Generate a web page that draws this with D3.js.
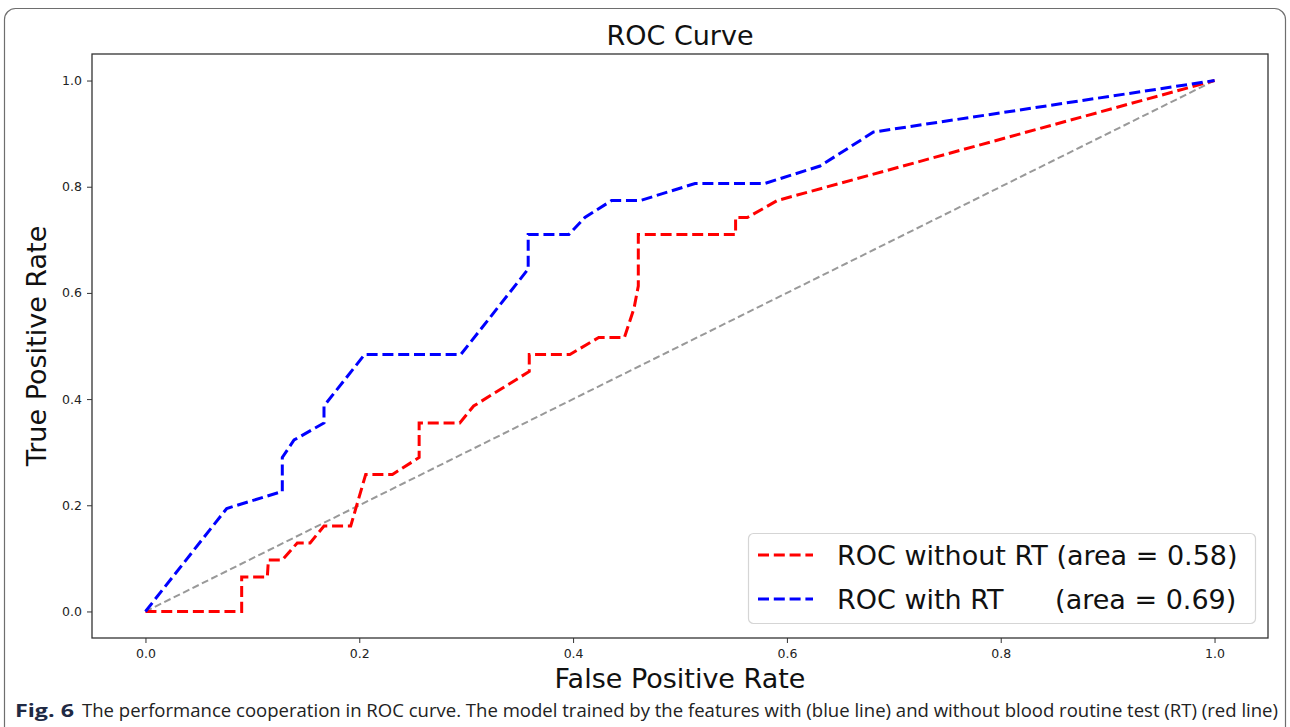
<!DOCTYPE html>
<html>
<head>
<meta charset="utf-8">
<script src="https://cdn.jsdelivr.net/npm/d3@7"></script>
<style>
  html, body { margin: 0; padding: 0; background: #fff; }
  svg { display: block; }
  text { font-family: "DejaVu Sans", sans-serif; }
</style>
</head>
<body>
<script>
// ---- Data ----
const fprWithout = [0, 0.090, 0.090, 0.114, 0.115, 0.128, 0.142, 0.154, 0.167, 0.192, 0.206, 0.231, 0.256, 0.256, 0.294, 0.307, 0.359, 0.359, 0.397, 0.424, 0.448, 0.457, 0.461, 0.461, 0.552, 0.552, 0.563, 0.591, 1.0];
const tprWithout = [0, 0.000, 0.065, 0.065, 0.097, 0.097, 0.129, 0.129, 0.161, 0.161, 0.258, 0.258, 0.290, 0.355, 0.355, 0.387, 0.452, 0.484, 0.484, 0.516, 0.516, 0.571, 0.613, 0.710, 0.710, 0.742, 0.742, 0.774, 1.0];
const fprWith = [0, 0.076, 0.128, 0.128, 0.139, 0.167, 0.167, 0.205, 0.295, 0.358, 0.358, 0.396, 0.411, 0.436, 0.463, 0.514, 0.579, 0.631, 0.681, 1.0];
const tprWith = [0, 0.194, 0.226, 0.290, 0.323, 0.355, 0.387, 0.484, 0.484, 0.645, 0.710, 0.710, 0.742, 0.774, 0.774, 0.806, 0.806, 0.839, 0.903, 1.0];
const chanceX = [0, 1];
const chanceY = [0, 1];
const xTicks = [0.0, 0.2, 0.4, 0.6, 0.8, 1.0];
const yTicks = [0.0, 0.2, 0.4, 0.6, 0.8, 1.0];
const seriesNames = ["ROC without RT (area = 0.58)", "ROC with RT      (area = 0.69)"];
const seriesColors = ["#ff0000", "#0000ff"];
const titleText = "ROC Curve";
const xLabel = "False Positive Rate";
const yLabel = "True Positive Rate";
const captionBold = "Fig. 6";
const captionText = "The performance cooperation in ROC curve. The model trained by the features with (blue line) and without blood routine test (RT) (red line)";

// ---- Layout ----
const W = 1290, H = 727;
const plot = { left: 92, right: 1268, top: 54, bottom: 638 };

const svg = d3.select("body").append("svg")
  .attr("width", W).attr("height", H)
  .attr("viewBox", `0 0 ${W} ${H}`);

svg.append("rect").attr("width", W).attr("height", H).attr("fill", "#fff");

// outer figure border (rounded)
svg.append("rect")
  .attr("x", 4.5).attr("y", 8.5)
  .attr("width", 1281).attr("height", 730)
  .attr("rx", 11).attr("ry", 11)
  .attr("fill", "none").attr("stroke", "#6e6e6e").attr("stroke-width", 1.2);

const x = d3.scaleLinear().domain([-0.05, 1.05]).range([plot.left, plot.right]);
const y = d3.scaleLinear().domain([-0.05, 1.05]).range([plot.bottom, plot.top]);

// axes
const xAxis = d3.axisBottom(x).tickValues(xTicks).tickFormat(d3.format(".1f")).tickSize(5).tickPadding(5);
const yAxis = d3.axisLeft(y).tickValues(yTicks).tickFormat(d3.format(".1f")).tickSize(5).tickPadding(5);

const gx = svg.append("g").attr("transform", `translate(0,${plot.bottom})`).call(xAxis);
const gy = svg.append("g").attr("transform", `translate(${plot.left},0)`).call(yAxis);
[gx, gy].forEach(g => {
  g.select(".domain").remove();
  g.selectAll(".tick line").attr("stroke", "#333").attr("stroke-width", 1);
  g.selectAll(".tick text").attr("fill", "#222").style("font-size", "12.5px").style("font-family", "DejaVu Sans, sans-serif");
});
gx.selectAll(".tick text").attr("dy", "0.8em");

// line generator
const line = d3.line().x(d => x(d[0])).y(d => y(d[1]));
svg.append("clipPath").attr("id", "plotclip").append("rect")
  .attr("x", plot.left).attr("y", plot.top).attr("width", plot.right - plot.left).attr("height", plot.bottom - plot.top);

const g = svg.append("g").attr("clip-path", "url(#plotclip)");

g.append("path")
  .datum(chanceX.map((v, i) => [v, chanceY[i]]))
  .attr("d", line).attr("fill", "none")
  .attr("stroke", "#999999").attr("stroke-width", 2)
  .attr("stroke-dasharray", "7,3.5");

const seriesData = [
  fprWithout.map((v, i) => [v, tprWithout[i]]),
  fprWith.map((v, i) => [v, tprWith[i]])
];
seriesData.forEach((d, i) => {
  g.append("path").datum(d).attr("d", line)
    .attr("fill", "none").attr("stroke", seriesColors[i])
    .attr("stroke-width", 3).attr("stroke-dasharray", "11,4.8")
    .attr("stroke-linejoin", "miter");
});

// spines
svg.append("rect")
  .attr("x", plot.left).attr("y", plot.top)
  .attr("width", plot.right - plot.left).attr("height", plot.bottom - plot.top)
  .attr("fill", "none").attr("stroke", "#333").attr("stroke-width", 1.3);

// title & labels
svg.append("text").attr("x", (plot.left + plot.right) / 2).attr("y", 45)
  .attr("text-anchor", "middle").style("font-size", "27px").attr("fill", "#111").text(titleText);
svg.append("text").attr("x", (plot.left + plot.right) / 2).attr("y", 688)
  .attr("text-anchor", "middle").style("font-size", "27px").attr("fill", "#111").text(xLabel);
svg.append("text").attr("transform", `translate(46,${(plot.top + plot.bottom) / 2}) rotate(-90)`)
  .attr("text-anchor", "middle").style("font-size", "27px").attr("fill", "#111").text(yLabel);

// legend
const lg = svg.append("g");
lg.append("rect").attr("x", 748.5).attr("y", 533.5).attr("width", 507).attr("height", 90)
  .attr("rx", 5).attr("fill", "#fff").attr("fill-opacity", 0.8)
  .attr("stroke", "#d5d5d5").attr("stroke-width", 1.2);
const legendRows = [555, 599];
seriesNames.forEach((name, i) => {
  const yy = legendRows[i];
  lg.append("line").attr("x1", 758).attr("x2", 813).attr("y1", yy).attr("y2", yy)
    .attr("stroke", seriesColors[i]).attr("stroke-width", 3).attr("stroke-dasharray", "11,4.8");
  lg.append("text").attr("x", 837).attr("y", yy + 10)
    .style("font-size", "27px").style("white-space", "pre").attr("xml:space", "preserve")
    .attr("fill", "#111").text(name);
});

// caption
svg.append("text").attr("x", 15).attr("y", 717)
  .style("font-family", "'Open Sans', sans-serif").style("font-weight", "bold").style("font-size", "18px")
  .attr("fill", "#1f2a44").attr("textLength", 59).attr("lengthAdjust", "spacingAndGlyphs").text(captionBold);
svg.append("text").attr("x", 82).attr("y", 717)
  .style("font-family", "'Open Sans', sans-serif").style("font-size", "18px")
  .attr("fill", "#222").attr("textLength", 1196).attr("lengthAdjust", "spacingAndGlyphs").text(captionText);
</script>
</body>
</html>
